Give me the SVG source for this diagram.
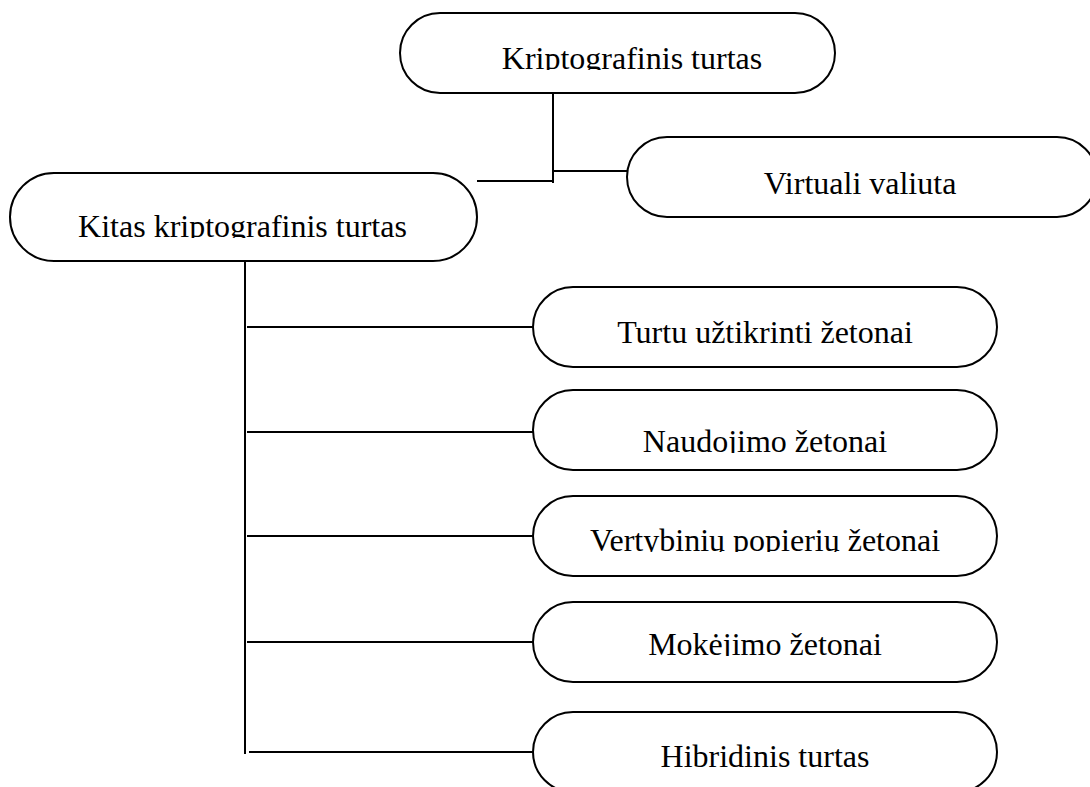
<svg xmlns="http://www.w3.org/2000/svg" width="1090" height="787" viewBox="0 0 1090 787">
<style>
.box{fill:#fff;stroke:#000;stroke-width:2}
.lbl{font-family:"Liberation Serif","Times New Roman",serif;font-size:32px;fill:#000;text-anchor:middle}
.conn line{stroke:#000;stroke-width:2}
</style>
<defs>
<clipPath id="c1"><rect x="400" y="20" width="435" height="50"/></clipPath>
<clipPath id="c2"><rect x="627" y="140" width="463" height="55"/></clipPath>
<clipPath id="c3"><rect x="10" y="180" width="467" height="58"/></clipPath>
<clipPath id="c4"><rect x="533" y="290" width="464" height="54"/></clipPath>
<clipPath id="c5"><rect x="533" y="393" width="464" height="60"/></clipPath>
<clipPath id="c6"><rect x="533" y="499" width="464" height="53"/></clipPath>
<clipPath id="c7"><rect x="533" y="605" width="464" height="51"/></clipPath>
<clipPath id="c8"><rect x="533" y="715" width="464" height="53"/></clipPath>
</defs>
<rect width="1090" height="787" fill="#fff"/>
<g class="conn">
<line x1="553" y1="93" x2="553" y2="183"/>
<line x1="553" y1="171" x2="627" y2="171"/>
<line x1="477" y1="181" x2="553" y2="181"/>
<line x1="245" y1="261" x2="245" y2="754"/>
<line x1="247" y1="327" x2="533" y2="327"/>
<line x1="247" y1="432" x2="533" y2="432"/>
<line x1="247" y1="536" x2="533" y2="536"/>
<line x1="247" y1="642" x2="533" y2="642"/>
<line x1="249" y1="752" x2="533" y2="752"/>
</g>
<g id="kriptografinis-turtas">
<rect class="box" x="400" y="13" width="435" height="80" rx="40"/>
<text class="lbl" x="632" y="69" clip-path="url(#c1)">Kriptografinis turtas</text>
</g>
<g id="virtuali-valiuta">
<rect class="box" x="627" y="137" width="470" height="80" rx="40"/>
<text class="lbl" x="860" y="194" clip-path="url(#c2)">Virtuali valiuta</text>
</g>
<g id="kitas">
<rect class="box" x="10" y="173" width="467" height="88" rx="44"/>
<text class="lbl" x="242.5" y="237" clip-path="url(#c3)">Kitas kriptografinis turtas</text>
</g>
<g id="turtu">
<rect class="box" x="533" y="287" width="464" height="80" rx="40"/>
<text class="lbl" x="765" y="343" clip-path="url(#c4)">Turtu užtikrinti žetonai</text>
</g>
<g id="naudojimo">
<rect class="box" x="533" y="390" width="464" height="80" rx="40"/>
<text class="lbl" x="765" y="452" clip-path="url(#c5)">Naudojimo žetonai</text>
</g>
<g id="vertybiniu">
<rect class="box" x="533" y="496" width="464" height="80" rx="40"/>
<text class="lbl" x="765" y="551" clip-path="url(#c6)">Vertybinių popierių žetonai</text>
</g>
<g id="mokejimo">
<rect class="box" x="533" y="602" width="464" height="80" rx="40"/>
<text class="lbl" x="765" y="655" clip-path="url(#c7)">Mokėjimo žetonai</text>
</g>
<g id="hibridinis">
<rect class="box" x="533" y="712" width="464" height="80" rx="40"/>
<text class="lbl" x="765" y="767" clip-path="url(#c8)">Hibridinis turtas</text>
</g>
</svg>
